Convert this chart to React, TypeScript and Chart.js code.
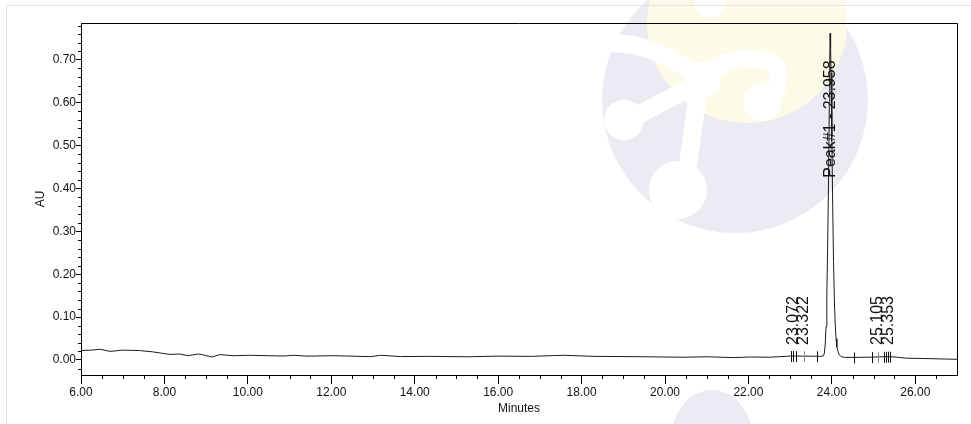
import React, { useEffect, useRef } from 'react';
import { Chart, registerables } from 'chart.js';

Chart.register(...registerables);

// ---- Data ----
const times = [
  6.0, 6.25, 6.46, 6.7, 7.0, 7.4, 7.72, 7.96, 8.13, 8.37, 8.57, 8.81, 8.93, 9.13, 9.33, 9.65,
  10.06, 10.46, 10.86, 11.1, 11.42, 12.06, 12.46, 12.94, 13.18, 13.66, 14.3, 15.26, 16.0, 16.8,
  17.57, 18.3, 19.25, 20.45, 21.0, 21.65, 22.05, 22.5, 22.9, 23.0, 23.3, 23.6, 23.7, 23.76,
  23.8, 23.82, 23.84, 23.86, 23.88, 23.9, 23.92, 23.94, 23.95, 23.958, 23.97, 23.98, 24.0,
  24.02, 24.04, 24.06, 24.08, 24.1, 24.12, 24.15, 24.18, 24.22, 24.3, 24.53, 25.0, 25.2,
  25.4, 25.6, 25.8, 26.4, 27.0,
];
const absorbance = [
  0.022, 0.023, 0.025, 0.02, 0.023, 0.022, 0.019, 0.0155, 0.013, 0.014, 0.01, 0.014, 0.012, 0.007, 0.0125, 0.01,
  0.011, 0.01, 0.0093, 0.011, 0.009, 0.01, 0.009, 0.0078, 0.011, 0.008, 0.0085, 0.0075, 0.009, 0.0085,
  0.011, 0.0085, 0.0078, 0.0065, 0.0075, 0.0055, 0.007, 0.0065, 0.0085, 0.0093, 0.009, 0.0088, 0.0085, 0.0088,
  0.01, 0.016, 0.035, 0.078, 0.155, 0.27, 0.42, 0.6, 0.7, 0.762, 0.73, 0.67, 0.52,
  0.36, 0.23, 0.14, 0.085, 0.05, 0.03, 0.019, 0.012, 0.008, 0.0062, 0.006, 0.0068, 0.0075,
  0.0078, 0.006, 0.0042, 0.003, 0.0016,
];

const xTickValues = [6, 8, 10, 12, 14, 16, 18, 20, 22, 24, 26];
const yTickValues = [0, 0.1, 0.2, 0.3, 0.4, 0.5, 0.6, 0.7];

// integration event markers (start/end/apex) along the baseline
const markerTimes = [23.03, 23.072, 23.13, 23.322, 23.65, 24.52, 24.96, 25.105, 25.25, 25.29, 25.353, 25.39];
const apexMarkerTimes = [23.322, 25.105];

// peak labels
const peakTimes = [23.072, 23.322, 23.958, 25.105, 25.353];
const peakNames = ['23.072', '23.322', 'Peak#1 - 23.958', '25.105', '25.353'];
const labelStartValues = [0.035, 0.035, 0.425, 0.035, 0.035];

const FONT = '"Liberation Sans", Arial, Helvetica, sans-serif';

function levelAt(t: number): number {
  for (let i = 0; i < times.length - 1; i++) {
    if (t >= times[i] && t <= times[i + 1]) {
      const f = (t - times[i]) / (times[i + 1] - times[i]);
      return absorbance[i] + f * (absorbance[i + 1] - absorbance[i]);
    }
  }
  return absorbance[absorbance.length - 1];
}

const decorPlugin = {
  id: 'decor',
  afterDraw(chart: any) {
    const { ctx, chartArea: a } = chart;
    const x = chart.scales.x;
    const y = chart.scales.y;
    ctx.save();
    ctx.strokeStyle = '#000';
    ctx.lineWidth = 1;
    // top and right frame
    ctx.beginPath();
    ctx.moveTo(a.left, Math.round(a.top) + 0.5);
    ctx.lineTo(Math.round(a.right) + 0.5, Math.round(a.top) + 0.5);
    ctx.lineTo(Math.round(a.right) + 0.5, a.bottom);
    ctx.stroke();

    // minor ticks
    ctx.beginPath();
    for (let k = -1; k <= 39; k++) {
      if (k % 5 === 0) continue;
      const p = Math.round(y.getPixelForValue(k * 0.02)) + 0.5;
      if (p < a.top || p > a.bottom) continue;
      ctx.moveTo(a.left - 3, p);
      ctx.lineTo(a.left, p);
    }
    for (let k = 12; k <= 54; k++) {
      if (k % 4 === 0) continue;
      const p = Math.round(x.getPixelForValue(k / 2)) + 0.5;
      if (p < a.left || p > a.right) continue;
      ctx.moveTo(p, a.bottom);
      ctx.lineTo(p, a.bottom + 4);
    }
    ctx.stroke();

    // markers
    markerTimes.forEach((t) => {
      const px = Math.round(x.getPixelForValue(t)) + 0.5;
      const py = y.getPixelForValue(levelAt(t));
      ctx.strokeStyle = apexMarkerTimes.includes(t) ? '#8a8a8a' : '#111';
      ctx.beginPath();
      ctx.moveTo(px, py - 5);
      ctx.lineTo(px, py + 6);
      ctx.stroke();
    });

    // peak labels
    ctx.fillStyle = '#111';
    ctx.font = `16px ${FONT}`;
    ctx.textAlign = 'left';
    ctx.textBaseline = 'middle';
    peakNames.forEach((name, i) => {
      const px = x.getPixelForValue(peakTimes[i]);
      const py = y.getPixelForValue(labelStartValues[i]);
      ctx.save();
      ctx.translate(px, py);
      ctx.rotate(-Math.PI / 2);
      ctx.fillText(name, 0, 0);
      ctx.restore();
    });
    ctx.restore();
  },
};

export default function App() {
  const ref = useRef<HTMLCanvasElement>(null);

  useEffect(() => {
    if (!ref.current) return;
    const tickFont = { family: FONT, size: 12 };
    const chart = new Chart(ref.current, {
      type: 'line',
      data: {
        datasets: [
          {
            data: times.map((t, i) => ({ x: t, y: absorbance[i] })),
            borderColor: '#1a1a1a',
            borderWidth: 1,
            pointRadius: 0,
            tension: 0,
            fill: false,
          },
        ],
      },
      options: {
        animation: false,
        responsive: false,
        layout: { padding: { left: 0, top: 23, right: 14, bottom: 0 } },
        plugins: { legend: { display: false }, tooltip: { enabled: false } },
        scales: {
          x: {
            type: 'linear',
            min: 6,
            max: 27,
            afterBuildTicks: (s: any) => {
              s.ticks = xTickValues.map((v) => ({ value: v }));
            },
            afterFit: (s: any) => {
              s.height = 49;
            },
            grid: { drawOnChartArea: false, drawTicks: true, tickLength: 9, color: '#000', lineWidth: 1 },
            border: { display: true, color: '#000', width: 1 },
            ticks: {
              autoSkip: false,
              maxRotation: 0,
              padding: 1,
              color: '#111',
              font: tickFont,
              callback: (v: any) => Number(v).toFixed(2),
            },
            title: {
              display: true,
              text: 'Minutes',
              color: '#111',
              font: tickFont,
              padding: { top: 0, bottom: 8 },
            },
          },
          y: {
            type: 'linear',
            min: -0.035,
            max: 0.786,
            afterBuildTicks: (s: any) => {
              s.ticks = yTickValues.map((v) => ({ value: v }));
            },
            afterFit: (s: any) => {
              s.width = 81;
            },
            grid: { drawOnChartArea: false, drawTicks: true, tickLength: 5, color: '#000', lineWidth: 1 },
            border: { display: true, color: '#000', width: 1 },
            ticks: {
              autoSkip: false,
              padding: 0,
              color: '#111',
              font: tickFont,
              callback: (v: any) => Number(v).toFixed(2),
            },
            title: {
              display: true,
              text: 'AU',
              color: '#111',
              font: tickFont,
              padding: { top: 33, bottom: 0 },
            },
          },
        },
      },
      plugins: [decorPlugin],
    } as any);
    return () => chart.destroy();
  }, []);

  return (
    <div
      style={{
        position: 'fixed',
        left: 0,
        top: 0,
        width: 971,
        height: 424,
        background: '#fff',
        overflow: 'hidden',
      }}
    >
      <svg width={971} height={424} style={{ position: 'absolute', left: 0, top: 0 }}>
        <circle cx={735} cy={100} r={133} fill="#ebebf4" />
        <circle cx={747} cy={23} r={100} fill="#fefae8" />
        <g stroke="#fff" strokeWidth={18} strokeLinecap="round" strokeLinejoin="round" fill="none">
          <path d="M598 44 Q650 38 700 78" />
          <path d="M700 78 Q740 48 775 64" />
          <path d="M775 64 Q785 90 765 100" />
          <path d="M700 78 L688 165" />
          <path d="M690 88 L636 116" />
        </g>
        <circle cx={703} cy={80} r={18} fill="#fff" />
        <circle cx={710} cy={2} r={16} fill="#fff" />
        <circle cx={762} cy={102} r={19} fill="#fff" />
        <circle cx={624} cy={120} r={20} fill="#fff" />
        <circle cx={678} cy={190} r={29} fill="#fff" />
        <ellipse cx={712} cy={437} rx={40} ry={47} fill="#ebebf4" />
      </svg>
      <div
        style={{
          position: 'absolute',
          left: 6,
          top: 5,
          right: 0,
          bottom: 0,
          borderTop: '1px solid #e3e3ea',
          borderLeft: '1px solid #e3e3ea',
        }}
      />
      <canvas
        ref={ref}
        width={971}
        height={424}
        style={{ position: 'absolute', left: 0, top: 0, width: 971, height: 424 }}
      />
    </div>
  );
}
